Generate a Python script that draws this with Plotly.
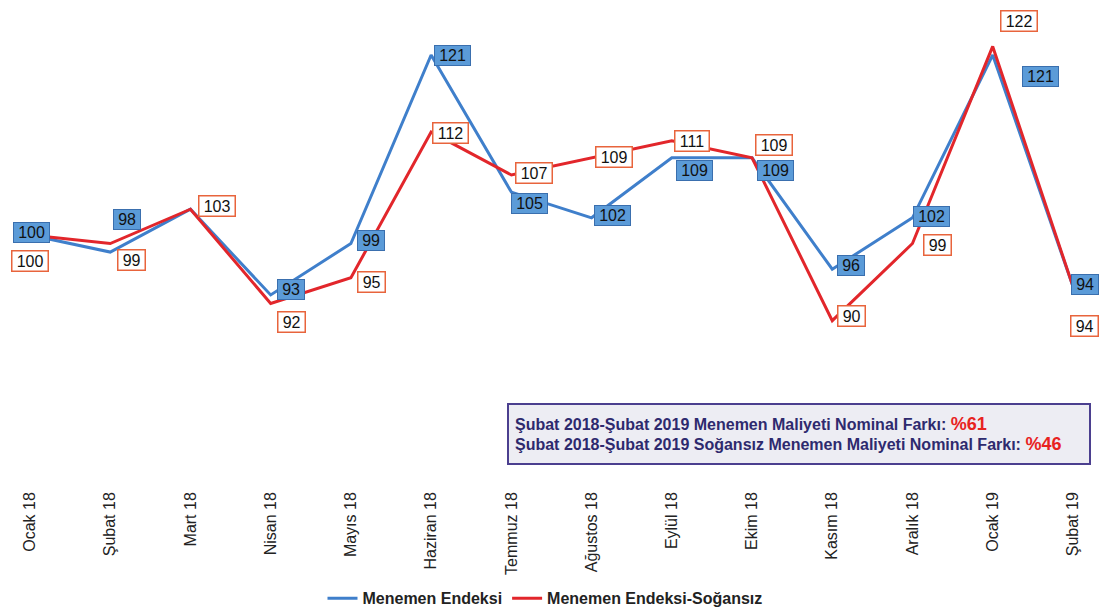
import plotly.graph_objects as go

months = ["Ocak 18", "Şubat 18", "Mart 18", "Nisan 18", "Mayıs 18", "Haziran 18", "Temmuz 18",
          "Ağustos 18", "Eylül 18", "Ekim 18", "Kasım 18", "Aralık 18", "Ocak 19", "Şubat 19"]
menemen = [100, 98, 103, 93, 99, 121, 105, 102, 109, 109, 96, 102, 121, 94]
sogansiz = [100, 99, 103, 92, 95, 112, 107, 109, 111, 109, 90, 99, 122, 94]

# label offsets in pixels (xshift, yshift); None = no label
blue_off = [(1, 2), (17, 33), None, (20, 5), (20, 3), (21, -1), (18, -11), (21, 2), (23, -13),
            (23, -13), (19, 4), (19, 1), (48, -22), (12, 2)]
red_off = [(0, -26), (21, -16), (27, 3), (21, -18), (21, -4), (19, -1), (23, 2), (22, 1), (20, 0),
           (22, 13), (19, 5), (25, -1), (26, 25), (12, -40)]

BLUE = "#3f7fcb"
RED = "#e2262b"
FONT = "Arial, Liberation Sans"
PAD = "\u2009"

fig = go.Figure()
fig.add_trace(go.Scatter(x=months, y=menemen, mode="lines", name="<b>Menemen Endeksi</b>",
                         line=dict(color=BLUE, width=3)))
fig.add_trace(go.Scatter(x=months, y=sogansiz, mode="lines", name="<b>Menemen Endeksi-Soğansız</b>",
                         line=dict(color=RED, width=3)))

annotations = []
for m, v, off in zip(months, menemen, blue_off):
    if off is None:
        continue
    annotations.append(dict(x=m, y=v, xref="x", yref="y", text=f"{PAD}{v}{PAD}", showarrow=False,
                            xshift=off[0], yshift=off[1],
                            font=dict(family=FONT, size=16, color="#111"),
                            bgcolor="#5b9bd8", bordercolor="#3a6fae", borderwidth=1, borderpad=1))
for m, v, off in zip(months, sogansiz, red_off):
    if off is None:
        continue
    annotations.append(dict(x=m, y=v, xref="x", yref="y", text=f"{PAD}{v}{PAD}", showarrow=False,
                            xshift=off[0], yshift=off[1],
                            font=dict(family=FONT, size=16, color="#111"),
                            bgcolor="#ffffff", bordercolor="#e8643c", borderwidth=1.5, borderpad=1))

annotations.append(dict(
    xref="paper", yref="paper", x=507 / 1101, y=(470 - 403) / 460, xanchor="left", yanchor="top",
    showarrow=False, align="left", width=568, height=46,
    text=("<b>Şubat 2018-Şubat 2019 Menemen Maliyeti Nominal Farkı: "
          "<span style='color:#e8231f;font-size:18px'>%61</span></b><br>"
          "<b>Şubat 2018-Şubat 2019 Soğansız Menemen Maliyeti Nominal Farkı: "
          "<span style='color:#e8231f;font-size:18px'>%46</span></b>"),
    font=dict(family=FONT, size=16, color="#2e2a6e"),
    bgcolor="#ededf3", bordercolor="#4b3f8f", borderwidth=2, borderpad=6))

fig.update_layout(
    width=1101, height=611,
    margin=dict(l=0, r=0, t=10, b=141, autoexpand=False),
    paper_bgcolor="white", plot_bgcolor="white",
    annotations=annotations,
    showlegend=True,
    legend=dict(orientation="h", x=0.495, xanchor="center", y=-0.279, yanchor="middle",
                font=dict(family=FONT, size=16, color="#222"), itemwidth=30),
    xaxis=dict(type="category", range=[-0.374, 13.35], showgrid=False, zeroline=False,
               showline=False, ticks="", tickangle=-90, ticklabelstandoff=18, automargin=False,
               tickfont=dict(family=FONT, size=16, color="#222")),
    yaxis=dict(range=[72.57, 126.25], visible=False, showgrid=False, zeroline=False),
)

fig.write_html("out.html", config={"displayModeBar": False},
               post_script="document.body.style.margin='0';")
